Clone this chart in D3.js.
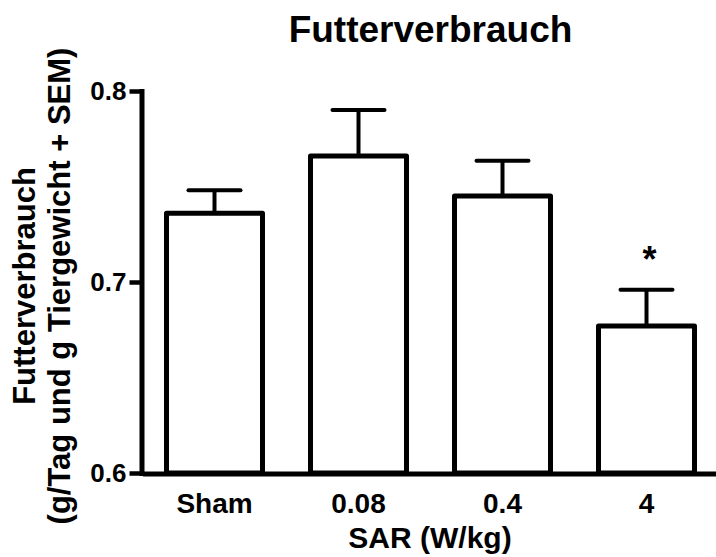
<!DOCTYPE html>
<html>
<head>
<meta charset="utf-8">
<script src="https://cdn.jsdelivr.net/npm/d3@7"></script>
<style>
  body { margin: 0; background: #fff; }
  text { font-family: "Liberation Sans", Arial, sans-serif; font-weight: bold; fill: #000; }
</style>
</head>
<body>
<svg id="chart" width="716" height="557"></svg>
<script>
// Chart data
const categories = ["Sham", "0.08", "0.4", "4"];
const means = [0.736, 0.766, 0.745, 0.677];
const sems = [0.012, 0.024, 0.0185, 0.019];
const sigMarks = ["", "", "", "*"];
const yTicks = [0.6, 0.7, 0.8];

const data = categories.map((c, i) => ({ cat: c, mean: means[i], sem: sems[i], sig: sigMarks[i] }));

const svg = d3.select("#chart");

const x = d3.scaleBand()
    .domain(categories)
    .range([142.5, 718.5])
    .paddingInner(1 / 3)
    .paddingOuter(1 / 6);

const y = d3.scaleLinear()
    .domain([0.6, 0.8])
    .range([473, 91]);

// Bars
svg.selectAll("rect.bar")
    .data(data)
    .enter().append("rect")
    .attr("class", "bar")
    .attr("x", d => x(d.cat))
    .attr("width", x.bandwidth())
    .attr("y", d => y(d.mean))
    .attr("height", d => y(0.6) - y(d.mean))
    .attr("fill", "#fff")
    .attr("stroke", "#000")
    .attr("stroke-width", 5)
    .attr("stroke-linejoin", "round");

// Error bars (mean + SEM only)
const err = svg.selectAll("g.err")
    .data(data)
    .enter().append("g")
    .attr("class", "err");

err.append("line")
    .attr("x1", d => x(d.cat) + x.bandwidth() / 2)
    .attr("x2", d => x(d.cat) + x.bandwidth() / 2)
    .attr("y1", d => y(d.mean) - 2)
    .attr("y2", d => y(d.mean + d.sem))
    .attr("stroke", "#000")
    .attr("stroke-width", 4);

err.append("line")
    .attr("x1", d => x(d.cat) + x.bandwidth() / 2 - 26)
    .attr("x2", d => x(d.cat) + x.bandwidth() / 2 + 26)
    .attr("y1", d => y(d.mean + d.sem))
    .attr("y2", d => y(d.mean + d.sem))
    .attr("stroke", "#000")
    .attr("stroke-width", 4)
    .attr("stroke-linecap", "round");

// Significance marks
svg.selectAll("text.sig")
    .data(data.filter(d => d.sig))
    .enter().append("text")
    .attr("class", "sig")
    .attr("x", d => x(d.cat) + x.bandwidth() / 2 + 3)
    .attr("y", d => y(d.mean + d.sem) - 18)
    .attr("text-anchor", "middle")
    .style("font-size", "36px")
    .text(d => d.sig);

// Y axis
const yAxis = svg.append("g")
    .attr("transform", "translate(141.5,0)")
    .call(d3.axisLeft(y).tickValues(yTicks).tickFormat(d3.format(".1f")).tickSize(12).tickSizeOuter(0).tickPadding(3));
yAxis.select(".domain").attr("stroke-width", 5).attr("stroke-linecap", "square");
yAxis.selectAll(".tick line").attr("stroke-width", 4.5);
yAxis.selectAll(".tick text").style("font-size", "26px");

// X axis
const xAxis = svg.append("g")
    .attr("transform", "translate(0,473.5)")
    .call(d3.axisBottom(x).tickSize(0).tickPadding(20));
xAxis.select(".domain").attr("stroke-width", 5);
xAxis.selectAll(".tick text").style("font-size", "28px");

// Title
svg.append("text")
    .attr("x", 430.5)
    .attr("y", 42)
    .attr("text-anchor", "middle")
    .style("font-size", "37px")
    .text("Futterverbrauch");

// X axis title
svg.append("text")
    .attr("x", 430)
    .attr("y", 548)
    .attr("text-anchor", "middle")
    .style("font-size", "30px")
    .text("SAR (W/kg)");

// Y axis title (two lines)
svg.append("text")
    .attr("transform", "translate(35,286) rotate(-90)")
    .attr("text-anchor", "middle")
    .style("font-size", "31px")
    .text("Futterverbrauch");

svg.append("text")
    .attr("transform", "translate(70,286) rotate(-90)")
    .attr("text-anchor", "middle")
    .style("font-size", "31px")
    .text("(g/Tag und g Tiergewicht + SEM)");
</script>
</body>
</html>
